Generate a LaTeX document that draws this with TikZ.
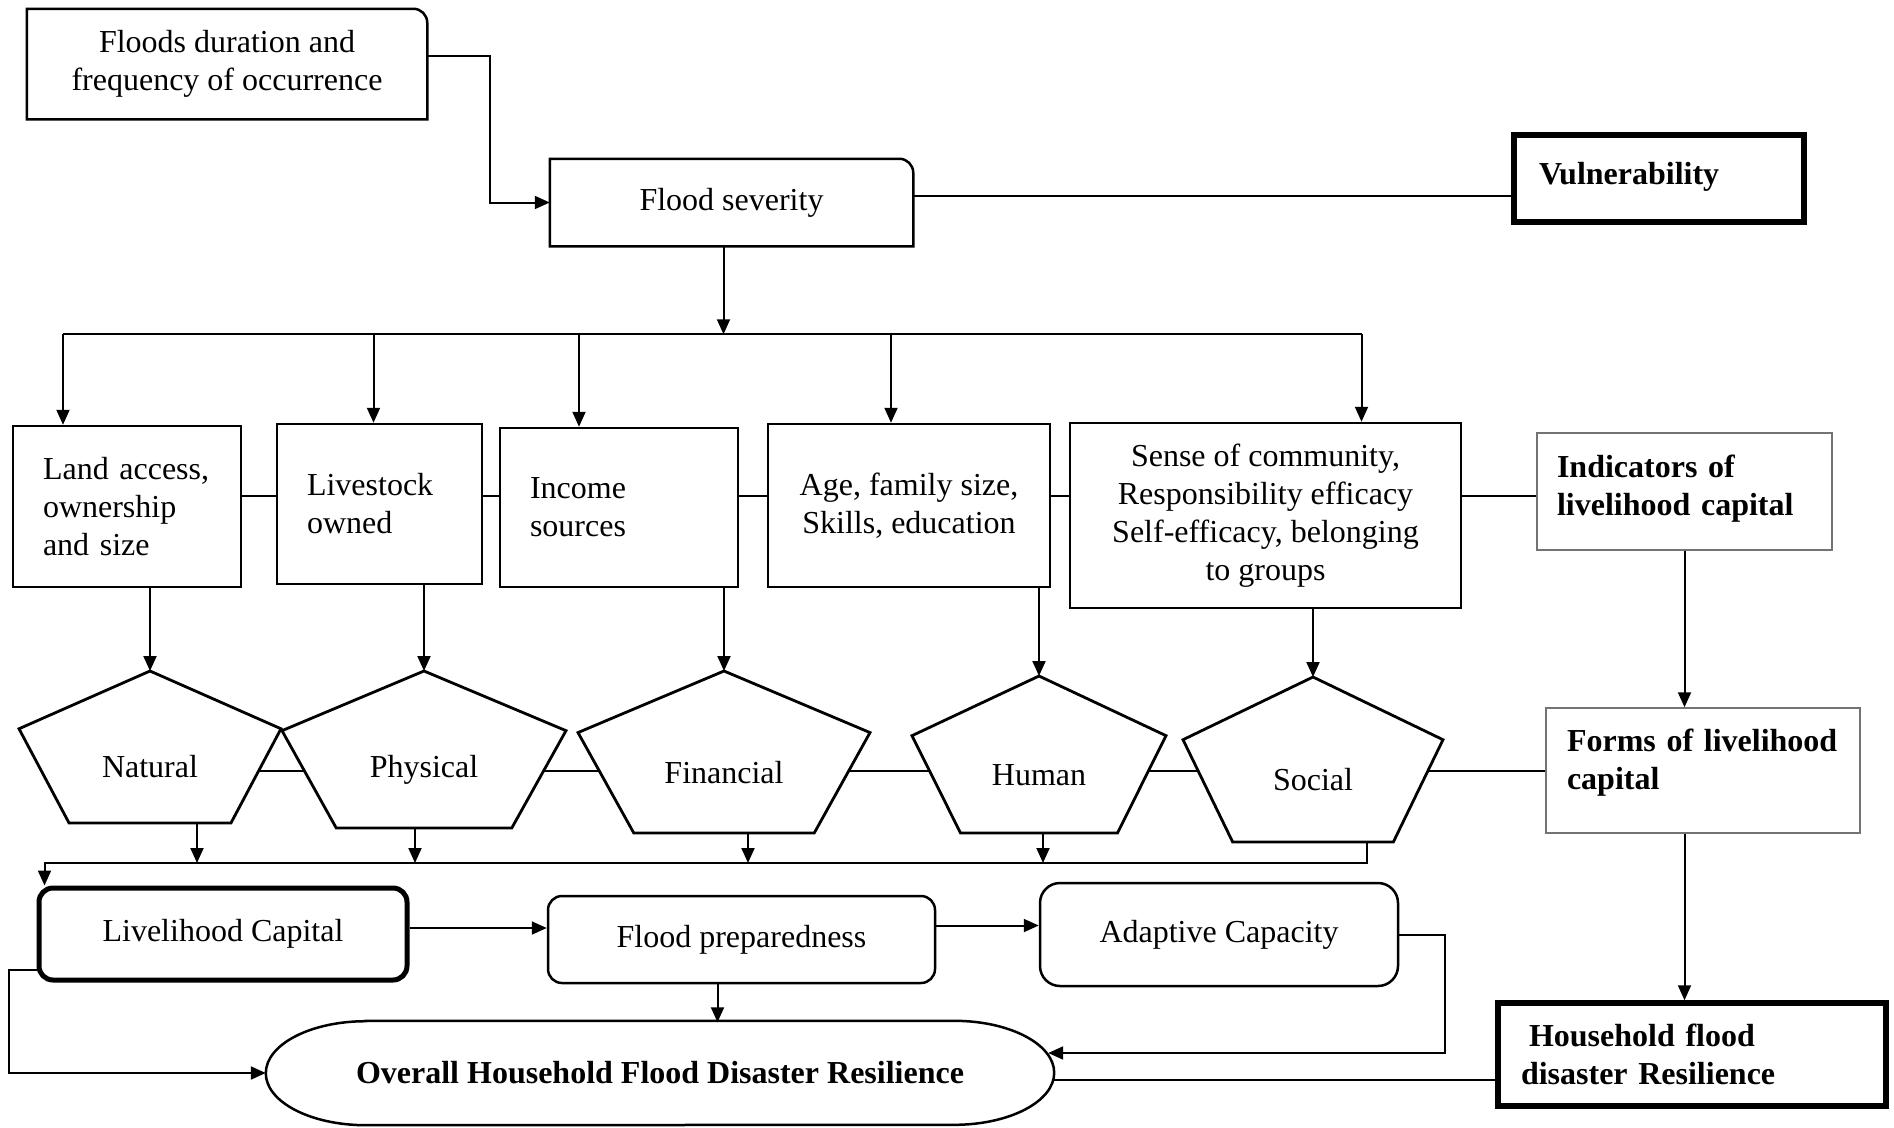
\documentclass[tikz,border=0pt]{standalone}
\usepackage{fontspec}
\setmainfont{Liberation Serif}
\usetikzlibrary{positioning,arrows.meta,calc}
\tikzset{
  txt/.style   ={font=\fontsize{32}{38}\selectfont},
  box/.style   ={txt,draw,line width=2.5pt,inner sep=0pt,align=center},
  lbox/.style  ={box,align=left,inner xsep=30pt,text width=#1},
  heavy/.style ={box,line width=5.5pt,font=\fontsize{32}{38}\selectfont\bfseries,align=left},
  soft/.style  ={box,rounded corners=14pt},
  hint/.style  ={box,draw=black!55,line width=1.5pt,font=\fontsize{32}{38}\selectfont\bfseries,align=left,inner xsep=20pt,text width=#1},
  frame/.style ={line width=2.5pt},
  pent/.style  ={line width=2.8pt},
  link/.style  ={line width=2pt},
  arr/.style   ={link,-{Triangle[length=15pt,width=13pt]}},
}
\begin{document}
\begin{tikzpicture}[x=1pt,y=1pt]
  \useasboundingbox (0,0) rectangle (1894,-1127);

  % top: hazard
  \node[box,draw=none,minimum width=398,minimum height=108] (floods) at (227,-64) {Floods duration and\\frequency of occurrence};
  \node[box,draw=none,minimum width=361,minimum height=85] (sev) at (731.5,-202.5) {Flood severity};
  \foreach \n in {floods,sev}
    \draw[frame] (\n.south west) -- (\n.north west) -- ([xshift=-14pt]\n.north east) arc[start angle=90,end angle=0,radius=14] -- (\n.south east) -- cycle;
  \node[heavy,inner xsep=25pt,text width=240,minimum height=87] (vul) at (1659,-178.5) {Vulnerability\\[-28pt]\mbox{}};

  % indicators
  \node[lbox=168,minimum height=161] (land) at (127,-506.5) {Land access,\\ownership\\and size};
  \node[lbox=145,minimum height=160,right=33.5pt of land,yshift=2.5pt] (live) {Livestock\\owned};
  \node[lbox=178,minimum height=159,right=15.5pt of live,yshift=-3.5pt] (inc) {Income\\sources};
  \node[box,minimum width=282,minimum height=163,right=27.5pt of inc,yshift=2pt] (age) {Age, family size,\\Skills, education};
  \node[box,minimum width=391,minimum height=185,right=17.5pt of age,yshift=-10pt] (sense) {Sense of community,\\Responsibility efficacy\\Self-efficacy, belonging\\to groups};
  \node[hint=255,minimum height=117] (ind) at (1684.5,-491.5) {Indicators of\\livelihood capital\\[-26pt]\mbox{}};

  % forms of capital
  \foreach \nm/\cx/\ty/\by/\hw/\ly/\dx/\lbl in
    {nat/150/671/823/131/767/47/Natural, phy/424/671/828/142/770/-9/Physical,
     fin/724/671/833/146/773/24/Financial, hum/1039/676/833/127/775/4/Human,
     soc/1313/677/842/130/780/54/Social}{
    \pgfmathsetmacro\uy{\ty+0.38*(\by-\ty)}
    \pgfmathsetmacro\sx{\hw*(1-0.382*(771-\uy)/(\by-\uy))}
    \draw[pent] (\cx,-\ty) coordinate (\nm-top) -- (\cx+\hw,-\uy) -- (\cx+0.618*\hw,-\by) -- (\cx-0.618*\hw,-\by) -- (\cx-\hw,-\uy) -- cycle;
    \node[txt] (\nm) at (\cx,-\ly) {\lbl};
    \coordinate (\nm-e) at (\cx+\sx,-771);
    \coordinate (\nm-w) at (\cx-\sx,-771);
    \coordinate (\nm-out) at (\cx+\dx,-\by);
  }
  \node[hint=272,inner xsep=21pt,minimum height=125] (forms) at (1703,-770.5) {Forms of livelihood\\capital\\[-16pt]\mbox{}};

  % outcomes
  \node[soft,line width=5pt,minimum width=368,minimum height=92] (lc) at (223,-934) {Livelihood Capital};
  \node[soft,minimum width=387,minimum height=87] (prep) at (741.5,-939.5) {Flood preparedness};
  \node[soft,rounded corners=20pt,minimum width=358,minimum height=103] (ac) at (1219,-934.5) {Adaptive Capacity};
  \node[txt,font=\fontsize{32}{38}\selectfont\bfseries,minimum width=788,minimum height=104,inner sep=0pt] (ovr) at (660,-1073) {Overall Household Flood Disaster Resilience};
  \draw[frame] ([xshift=100pt]ovr.north west) -- ([xshift=-100pt]ovr.north east) arc[start angle=90,end angle=-90,x radius=100,y radius=52]
    -- ([xshift=100pt]ovr.south west) arc[start angle=270,end angle=90,x radius=100,y radius=52] -- cycle;
  \node[heavy,inner xsep=23pt,text width=342,minimum height=103] (hh) at (1692,-1054.5) {\hspace{8pt}Household flood\\disaster Resilience};

  % connectors
  \draw[arr] ([yshift=8pt]floods.east) -| ([xshift=-60pt]sev.west) -- (sev.west);
  \draw[link] ([yshift=6.5pt]sev.east) -- ([yshift=6.5pt]sev.east -| vul.west);
  \coordinate (split) at ([xshift=-8pt,yshift=-88pt]sev.south);
  \draw[arr] ([xshift=-8pt]sev.south) -- (split);
  \draw[link] ([xshift=-64pt]land.north |- split) -- ([xshift=96pt]sense.north |- split);
  \foreach \n/\dx in {land/-64,live/-6,inc/-40,age/-18,sense/96}
    \draw[arr] ([xshift=\dx pt]\n.north |- split) -- ([xshift=\dx pt]\n.north);

  \coordinate (rowline) at (0,-496);
  \foreach \a/\b in {land/live,live/inc,inc/age,age/sense,sense/ind}
    \draw[link] (\a.east |- rowline) -- (\b.west |- rowline);
  \foreach \b/\p in {land/nat,live/phy,inc/fin,age/hum,sense/soc}
    \draw[arr] (\b.south -| \p-top) -- (\p-top);

  \draw[link] (nat-e) -- (phy-w);
  \draw[link] (phy-e) -- (fin-w);
  \draw[link] (fin-e) -- (hum-w);
  \draw[link] (hum-e) -- (soc-w);
  \draw[link] (soc-e) -- (soc-e -| forms.west);
  \draw[arr] (ind.south) -- (ind.south |- forms.north);
  \draw[arr] (ind.south |- forms.south) -- (ind.south |- hh.north);

  \coordinate (merge) at (0,-863);
  \foreach \p in {nat,phy,fin,hum}
    \draw[arr] (\p-out) -- (\p-out |- merge);
  \coordinate (lcin) at ([xshift=8pt]lc.north west);
  \draw[arr] (soc-out) |- (lcin |- merge) -- (lcin);

  \draw[arr] ([yshift=6pt]lc.east) -- ([yshift=6pt]lc.east -| prep.west);
  \draw[arr] ([yshift=14pt]prep.east) -- ([yshift=14pt]prep.east -| ac.west);
  \draw[arr] ([xshift=-24pt]prep.south) -- ++(0,-38);
  \draw[arr] ([yshift=-36pt]lc.west) -- ++(-28,0) |- (ovr.west);
  \draw[arr] (ac.east) -- ++(46,0) |- ([xshift=-6pt,yshift=20pt]ovr.east);
  \draw[link] ([yshift=-7pt]ovr.east) -- ([yshift=-7pt]ovr.east -| hh.west);
\end{tikzpicture}
\end{document}
